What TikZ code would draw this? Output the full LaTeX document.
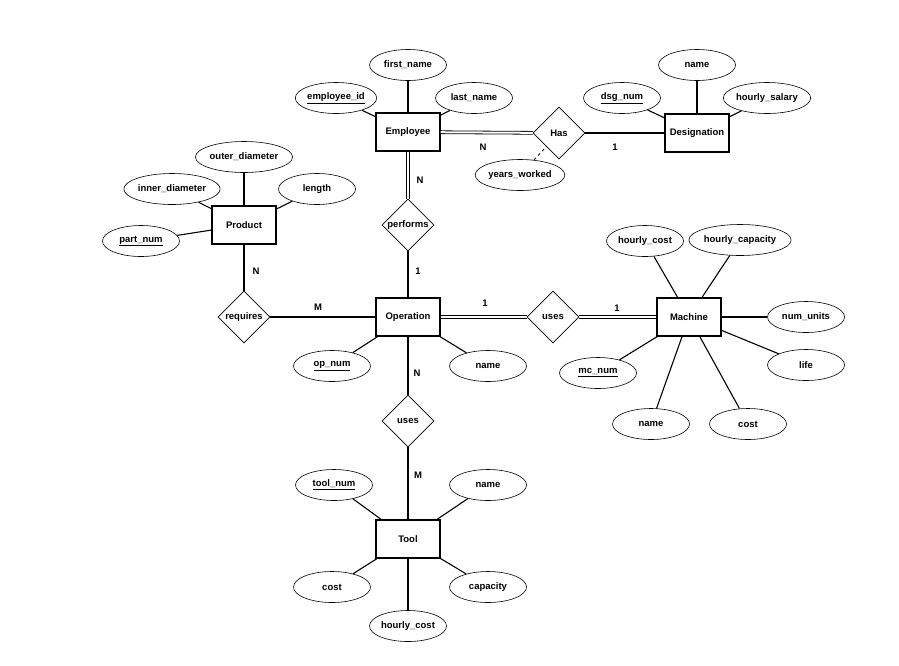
\documentclass[tikz,border=0pt]{standalone}
\usepackage{fontspec}
\setmainfont{Liberation Sans}
\usetikzlibrary{shapes.geometric}
\begin{document}
\begin{tikzpicture}[x=1pt,y=-1pt,font=\fontsize{9.5}{11}\selectfont\bfseries,
  ent/.style={draw,line width=1.2pt,minimum width=64pt,minimum height=38pt},
  att/.style={draw,ellipse,line width=0.6pt,minimum width=77pt,minimum height=31pt,inner sep=0pt},
  rel/.style={draw,diamond,aspect=1,line width=0.6pt,minimum width=52pt,minimum height=52pt,inner sep=0pt},
  ln/.style={line width=1.1pt},
  dbl/.style={double,double distance=2pt,line width=0.8pt},
  card/.style={inner sep=0pt}]
\useasboundingbox (0,0) rectangle (899,665);
% entities
\node[ent] (emp) at (408,132) {Employee};
\node[ent] (des) at (697,133) {Designation};
\node[ent] (prod) at (244,225) {Product};
\node[ent] (op) at (408,317) {Operation};
\node[ent] (mac) at (689,317) {Machine};
\node[ent] (tool) at (408,539) {Tool};
% relationships
\node[rel] (has) at (559,133) {Has};
\node[rel] (perf) at (408,225) {performs};
\node[rel] (req) at (244,317) {requires};
\node[rel] (usesm) at (553,317) {uses};
\node[rel] (usest) at (408,421) {uses};
% attributes
\node[att] (fn) at (408,65) {first\_name};
\node[att] (eid) at (336,98) {\underline{employee\_id}};
\node[att] (lnm) at (474,98) {last\_name};
\node[att] (dsg) at (622,98) {\underline{dsg\_num}};
\node[att] (dnm) at (697,65) {name};
\node[att] (hs) at (767,98) {hourly\_salary};
\node[att] (yw) at (520,175) {years\_worked};
\node[att] (od) at (244,157) {outer\_diameter};
\node[att] (id) at (172,189) {inner\_diameter};
\node[att] (len) at (317,189) {length};
\node[att] (pn) at (141,241) {\underline{part\_num}};
\node[att] (hc) at (645,241) {hourly\_cost};
\node[att] (hcap) at (740,240) {hourly\_capacity};
\node[att] (nu) at (806,317) {num\_units};
\node[att] (life) at (806,365) {life};
\node[att] (mcost) at (748,424) {cost};
\node[att] (mname) at (651,424) {name};
\node[att] (mcn) at (598,373) {\underline{mc\_num}};
\node[att] (opn) at (332,366) {\underline{op\_num}};
\node[att] (opname) at (488,366) {name};
\node[att] (tn) at (334,485) {\underline{tool\_num}};
\node[att] (tname) at (488,485) {name};
\node[att] (tcost) at (332,587) {cost};
\node[att] (tcap) at (488,587) {capacity};
\node[att] (thc) at (408,626) {hourly\_cost};
% attribute lines
\foreach \a/\e in {fn/emp,eid/emp,lnm/emp,dsg/des,dnm/des,hs/des,od/prod,id/prod,len/prod,pn/prod,
  hc/mac,hcap/mac,nu/mac,life/mac,mcost/mac,mname/mac,mcn/mac,opn/op,opname/op,tn/tool,tname/tool,tcost/tool,tcap/tool,thc/tool}
  \draw[ln] (\a) -- (\e);
\draw[dashed,line width=0.8pt] (yw) -- (has);
% relationships
\draw[dbl] (emp) -- (has);
\draw[ln] (has) -- (des);
\draw[dbl] (emp) -- (perf);
\draw[ln] (perf) -- (op);
\draw[ln] (prod) -- (req);
\draw[ln] (req) -- (op);
\draw[dbl] (op) -- (usesm);
\draw[dbl] (usesm) -- (mac);
\draw[ln] (op) -- (usest);
\draw[ln] (usest) -- (tool);
% cardinalities
\node[card] at (483,147) {N};
\node[card] at (615,147) {1};
\node[card] at (420,180) {N};
\node[card] at (418,271) {1};
\node[card] at (256,271) {N};
\node[card] at (318,307) {M};
\node[card] at (485,303) {1};
\node[card] at (617,308) {1};
\node[card] at (417,373) {N};
\node[card] at (418,475) {M};
\end{tikzpicture}
\end{document}
